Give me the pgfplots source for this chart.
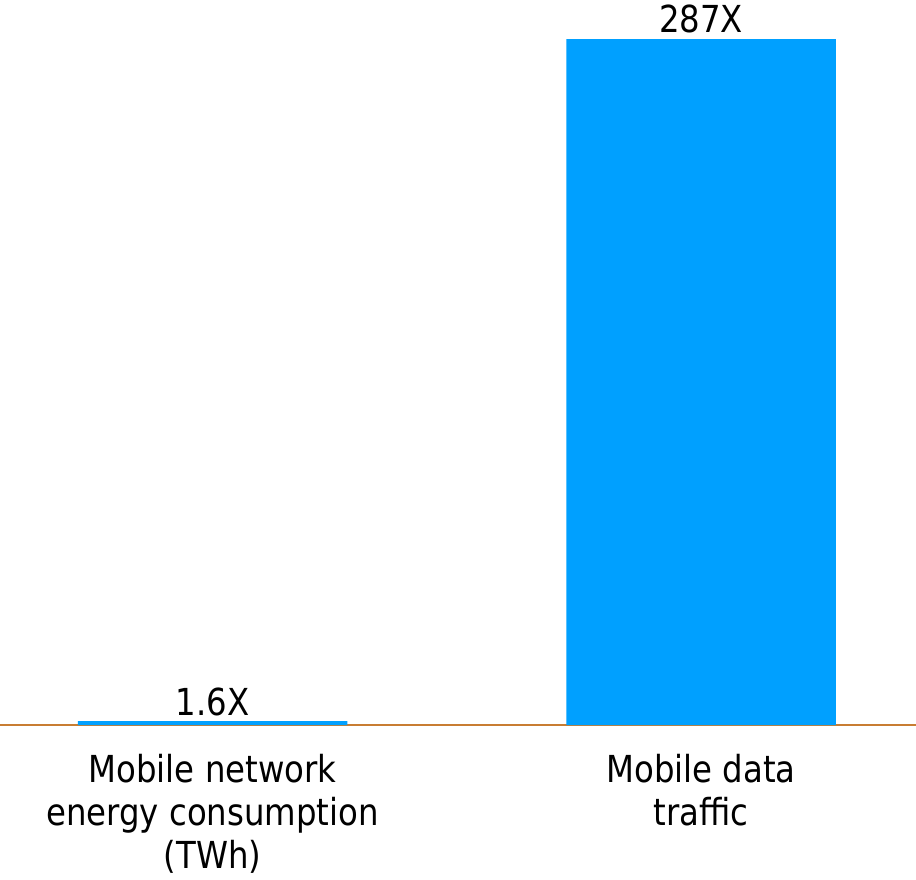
\documentclass[border=0pt]{standalone}
\usepackage{pgfplots}
\pgfplotsset{compat=1.18}
\usepackage{fontspec}
\setmainfont{DejaVu Sans}[FakeStretch=0.87]

\definecolor{barblue}{RGB}{0,160,255}
\definecolor{baseline}{RGB}{200,125,50}

\begin{document}
\begin{tikzpicture}
\begin{axis}[
  scale only axis,
  width=458pt, height=343pt,
  xmin=-0.435, xmax=1.44,
  ymin=0, ymax=287,
  clip=false,
  axis x line=bottom,
  axis y line=none,
  axis line style={-, draw=baseline, line width=1.1pt},
  ytick=\empty,
  xtick={0,1},
  xticklabels={{Mobile network\\energy consumption\\(TWh)},{Mobile data\\traffic}},
  major tick length=0pt,
  xticklabel style={align=center, anchor=north, inner sep=0pt, yshift=-14.5pt,
    font=\fontsize{18.6}{21.5}\selectfont},
  ybar,
  bar width=0.5517,
  nodes near coords,
  point meta=explicit symbolic,
  every node near coord/.append style={anchor=base, inner sep=0pt, yshift=3pt,
    font=\fontsize{18.6}{21.5}\selectfont, text=black},
]
\addplot[fill=barblue, draw=none] coordinates {
  (0,1.6) [1.6X]
  (1,287) [287X]
};
\end{axis}
\pgfresetboundingbox
\path (0,-77pt) rectangle (458pt,362.5pt);
\end{tikzpicture}
\end{document}
